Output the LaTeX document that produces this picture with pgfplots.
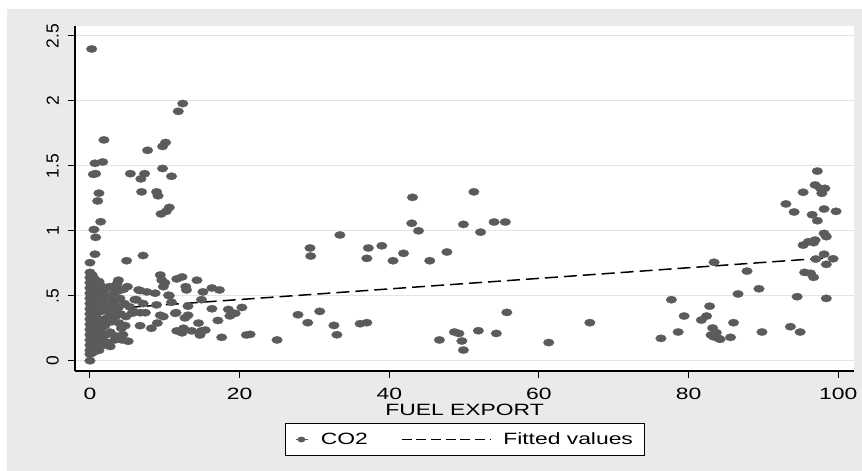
\documentclass[border=0pt]{standalone}
\usepackage{fontspec}
\setmainfont[FakeStretch=1.4]{Liberation Sans}
\newfontfamily\yfont{Liberation Sans}
\usepackage{pgfplots}
\pgfplotsset{compat=1.18}
\definecolor{bggray}{HTML}{EAEAEA}
\definecolor{markgray}{HTML}{5B5B5B}
\definecolor{gridgray}{HTML}{E4E4E4}

\begin{document}
\fontsize{16.4}{19}\selectfont
\begin{tikzpicture}[x=1bp,y=1bp]
\fill[white] (0,0) rectangle (862,471);
\fill[bggray] (7,0) rectangle (862,462);
\begin{axis}[
    at={(75bp,100bp)}, anchor=south west,
    scale only axis, width=779bp, height=345bp,
    xmin=-2, xmax=102.1, ymin=-0.079, ymax=2.577,
    axis background/.style={fill=white},
    axis x line*=bottom, axis y line*=left,
    axis line style={line width=1.2bp, black, -},
    xtick={0,20,...,100},
    ytick={0,0.5,1,1.5,2,2.5},
    yticklabels={0,.5,1,1.5,2,2.5},
    tick align=outside, major tick length=7bp,
    tick style={black, line width=1bp},
    ymajorgrids, grid style={gridgray, line width=1bp},
    /pgf/number format/assume math mode=true,
    xticklabel style={anchor=north, inner sep=0pt, yshift=-10bp},
    yticklabel style={font=\yfont\fontsize{17.5}{20}\selectfont, xshift=-9bp, rotate=90, anchor=south, inner sep=0pt},
    xlabel={FUEL EXPORT},
    xlabel style={at={(axis description cs:0.5,0)}, anchor=north, inner sep=0pt, yshift=-32.5bp},
    legend style={at={(axis description cs:0.5,-0.1507)}, anchor=north,
        draw=black, line width=0.8bp, fill=white, legend columns=2,
        inner xsep=11bp, inner ysep=9bp, nodes={inner sep=0pt},
        /tikz/every odd column/.append style={column sep=12bp},
        /tikz/every even column/.append style={column sep=33bp}},
]
\addplot[only marks, mark=*, mark size=3.7bp, color=markgray,
    mark options={xscale=1.45, fill=markgray, draw=markgray, line width=0.2bp},
    legend image code/.code={\path (0bp,0bp) -- (12bp,0bp);
        \fill[markgray] (5bp,0bp) ellipse[x radius=3.5bp, y radius=2.5bp];}]
table {
x y
0.23 2.40
12.4 1.98
11.8 1.92
1.87 1.70
10.1 1.68
9.7 1.65
7.7 1.62
0.67 1.52
1.7 1.53
0.45 1.435
0.76 1.44
5.4 1.44
7.3 1.44
6.8 1.40
9.7 1.48
10.9 1.42
1.2 1.29
1.03 1.23
6.9 1.30
8.9 1.30
9.1 1.27
10.6 1.18
10.2 1.15
9.5 1.13
1.43 1.07
0.53 1.01
0.76 0.95
0.67 0.82
0.0 0.755
4.9 0.77
7.1 0.81
0.0 0.0
0.0 0.05
0.0 0.08
0.0 0.12
0.0 0.16
0.0 0.20
0.0 0.24
0.0 0.28
0.0 0.32
0.0 0.36
0.0 0.40
0.0 0.44
0.0 0.48
0.0 0.52
0.0 0.56
0.0 0.60
0.0 0.64
0.0 0.68
0.3 0.06
0.3 0.10
0.3 0.14
0.3 0.18
0.3 0.22
0.3 0.26
0.3 0.30
0.3 0.34
0.3 0.38
0.3 0.42
0.3 0.46
0.3 0.50
0.3 0.54
0.3 0.58
0.3 0.62
0.3 0.66
0.6 0.07
0.6 0.11
0.6 0.15
0.6 0.19
0.6 0.23
0.6 0.27
0.6 0.31
0.6 0.35
0.6 0.39
0.6 0.43
0.6 0.47
0.6 0.51
0.6 0.55
0.6 0.59
0.6 0.63
0.9 0.09
0.9 0.13
0.9 0.17
0.9 0.21
0.9 0.25
0.9 0.29
0.9 0.33
0.9 0.37
0.9 0.41
0.9 0.45
0.9 0.49
0.9 0.53
0.9 0.57
0.9 0.60
1.2 0.08
1.2 0.14
1.2 0.20
1.2 0.26
1.2 0.32
1.2 0.38
1.2 0.44
1.2 0.50
1.2 0.56
1.2 0.61
1.4 0.58
1.6 0.52
1.8 0.45
1.5 0.38
1.7 0.31
1.4 0.24
1.6 0.17
1.9 0.12
2.0 0.55
2.2 0.49
2.1 0.40
2.3 0.33
2.0 0.27
2.2 0.20
2.4 0.14
2.6 0.57
2.7 0.50
2.8 0.44
2.6 0.37
2.9 0.30
2.7 0.22
2.7 0.11
3.1 0.57
3.2 0.52
3.3 0.46
3.0 0.39
3.4 0.34
3.5 0.19
3.3 0.16
3.6 0.59
3.8 0.62
3.9 0.54
4.0 0.48
3.8 0.41
4.1 0.36
3.9 0.29
4.2 0.25
4.3 0.16
4.5 0.55
4.6 0.44
4.8 0.34
4.7 0.27
4.4 0.20
5.1 0.15
5.0 0.57
5.3 0.415
5.6 0.365
5.8 0.38
6.0 0.47
6.2 0.47
6.5 0.545
6.7 0.54
7.6 0.53
6.7 0.37
7.4 0.37
7.1 0.44
6.7 0.27
8.2 0.25
8.7 0.52
8.9 0.43
9.4 0.35
9.0 0.29
9.8 0.34
9.4 0.66
9.6 0.62
10.0 0.60
9.8 0.57
10.5 0.505
10.9 0.45
10.6 0.50
11.4 0.365
11.6 0.23
11.6 0.63
12.3 0.645
14.3 0.62
12.8 0.57
12.9 0.545
15.1 0.53
16.3 0.56
17.3 0.545
14.9 0.47
13.1 0.42
11.5 0.37
16.3 0.40
18.5 0.395
19.4 0.365
20.3 0.41
18.7 0.345
12.7 0.33
13.1 0.35
14.5 0.29
17.1 0.31
12.5 0.25
12.3 0.215
13.6 0.23
14.9 0.23
15.4 0.236
14.7 0.198
17.6 0.18
20.9 0.198
25.0 0.16
27.8 0.354
29.1 0.293
30.7 0.38
32.6 0.272
33.0 0.20
36.1 0.285
37.0 0.293
21.4 0.203
46.7 0.16
48.7 0.221
49.3 0.21
49.7 0.152
49.9 0.082
51.9 0.231
54.3 0.21
55.7 0.372
61.3 0.14
66.8 0.293
43.1 1.258
51.3 1.30
43.0 1.058
43.9 1.0
49.9 1.05
52.2 0.99
54.0 1.068
55.5 1.068
33.4 0.968
29.4 0.868
29.5 0.806
37.2 0.868
37.0 0.788
39.0 0.885
40.5 0.77
41.9 0.827
45.4 0.77
47.7 0.837
93.0 1.207
94.1 1.145
96.5 1.124
98.1 1.168
99.7 1.15
97.2 1.078
98.1 0.98
98.4 0.955
95.3 0.89
96.0 0.916
96.9 0.929
96.7 0.909
98.1 0.82
97.0 0.783
99.3 0.785
98.4 0.742
95.5 0.68
96.3 0.673
96.7 0.642
83.4 0.758
87.8 0.69
89.4 0.554
86.6 0.514
94.5 0.493
98.4 0.48
77.7 0.47
82.8 0.42
79.4 0.344
81.7 0.313
82.4 0.344
86.0 0.293
83.2 0.252
83.7 0.216
83.0 0.198
84.0 0.172
83.3 0.185
84.2 0.165
85.6 0.18
78.6 0.221
76.3 0.172
89.8 0.221
93.6 0.262
94.9 0.221
97.2 1.46
96.9 1.353
97.6 1.327
98.2 1.327
95.3 1.297
97.8 1.289
};
\addlegendentry{CO2}
\addplot[black, line width=1.5bp, dash pattern=on 13bp off 6bp,
    legend image code/.code={\draw[black, line width=1.4bp, dash pattern=on 10bp off 4.7bp] (0bp,0bp) -- (89bp,0bp);}]
coordinates {(0,0.39) (20,0.471) (40,0.553) (60,0.634) (80,0.716) (99.8,0.797)};
\addlegendentry{Fitted values}
\end{axis}
\end{tikzpicture}
\end{document}
